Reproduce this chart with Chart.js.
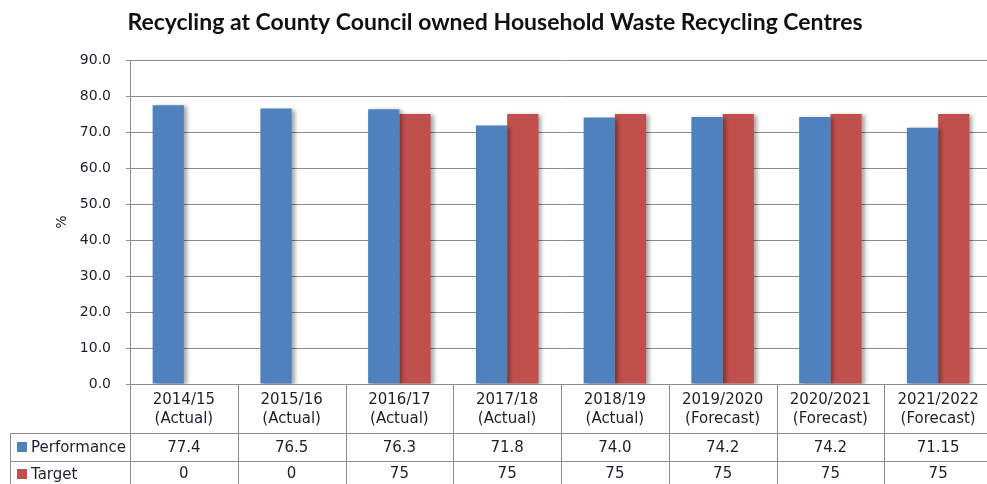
<!DOCTYPE html>
<html>
<head>
<meta charset="utf-8">
<script src="https://cdn.jsdelivr.net/npm/chart.js@4/dist/chart.umd.min.js"></script>
<style>
  html, body { margin: 0; padding: 0; background: #fff; overflow: hidden; }
  #wrap { width: 992px; height: 484px; }
</style>
</head>
<body>
<div id="wrap"><canvas id="recycling" width="992" height="484"></canvas></div>
<script>
// data
const years = ['2014/15', '2015/16', '2016/17', '2017/18', '2018/19', '2019/2020', '2020/2021', '2021/2022'];
const stages = ['(Actual)', '(Actual)', '(Actual)', '(Actual)', '(Actual)', '(Forecast)', '(Forecast)', '(Forecast)'];
const performance = [77.4, 76.5, 76.3, 71.8, 74.0, 74.2, 74.2, 71.15];
const performanceText = ['77.4', '76.5', '76.3', '71.8', '74.0', '74.2', '74.2', '71.15'];
const target = [0, 0, 75, 75, 75, 75, 75, 75];
const yTicks = [0, 10, 20, 30, 40, 50, 60, 70, 80, 90];

const BLUE = '#4F81BD';
const RED = '#C0504D';
const LINE = '#8c8c8c';
const TEXT = '#1e1e2e';
const FONT = '"DejaVu Sans", Verdana, sans-serif';

// bar shadow like the excel one
const shadowPlugin = {
  id: 'barShadow',
  beforeDatasetsDraw(chart) {
    const ctx = chart.ctx;
    ctx.save();
    ctx.shadowColor = 'rgba(0,0,0,0.35)';
    ctx.shadowBlur = 4;
    ctx.shadowOffsetX = 3;
    ctx.shadowOffsetY = 1;
  },
  afterDatasetsDraw(chart) {
    chart.ctx.restore();
  }
};

// title, % label and the data table under the plot
const tablePlugin = {
  id: 'dataTable',
  afterDraw(chart) {
    const ctx = chart.ctx;
    const x = chart.scales.x;
    const area = chart.chartArea;
    const colW = (area.right - area.left) / years.length;
    const row1 = 433, row2 = 461, bottom = 484;
    const tableLeft = 10;

    ctx.save();
    // title
    ctx.fillStyle = '#111';
    ctx.font = 'bold 23px Lato, sans-serif';
    ctx.textAlign = 'center';
    ctx.textBaseline = 'middle';
    ctx.fillText('Recycling at County Council owned Household Waste Recycling Centres', 495, 23);

    // y title
    ctx.save();
    ctx.translate(62, 222);
    ctx.rotate(-Math.PI / 2);
    ctx.font = '14px ' + FONT;
    ctx.fillStyle = TEXT;
    ctx.fillText('%', 0, 0);
    ctx.restore();

    // table lines
    ctx.strokeStyle = LINE;
    ctx.lineWidth = 1;
    ctx.beginPath();
    for (let i = 0; i <= years.length; i++) {
      const lx = Math.round(area.left + i * colW) + 0.5;
      ctx.moveTo(lx, area.bottom);
      ctx.lineTo(lx, bottom);
    }
    ctx.moveTo(tableLeft + 0.5, row1);
    ctx.lineTo(tableLeft + 0.5, bottom);
    ctx.moveTo(tableLeft, row1 + 0.5);
    ctx.lineTo(area.right, row1 + 0.5);
    ctx.moveTo(tableLeft, row2 + 0.5);
    ctx.lineTo(area.right, row2 + 0.5);
    ctx.stroke();

    // cell text
    ctx.fillStyle = TEXT;
    ctx.font = '15px ' + FONT;
    ctx.textAlign = 'center';
    years.forEach((y, i) => {
      const cx = x.getPixelForValue(i);
      ctx.fillText(y, cx, 400);
      ctx.fillText(stages[i], cx, 419);
      ctx.fillText(performanceText[i], cx, 448);
      ctx.fillText(String(target[i]), cx, 474);
    });

    // legend keys in the row headers
    ctx.textAlign = 'left';
    ctx.fillStyle = BLUE;
    ctx.fillRect(17, 442, 10, 10);
    ctx.fillStyle = RED;
    ctx.fillRect(17, 469, 10, 10);
    ctx.fillStyle = TEXT;
    ctx.fillText('Performance', 31, 448);
    ctx.fillText('Target', 31, 475);
    ctx.restore();
  }
};

const config = {
  type: 'bar',
  data: {
    labels: years,
    datasets: [
      { label: 'Performance', data: performance, backgroundColor: BLUE, borderWidth: 0 },
      { label: 'Target', data: target, backgroundColor: RED, borderWidth: 0 }
    ]
  },
  options: {
    responsive: false,
    animation: false,
    devicePixelRatio: 1,
    layout: { padding: { top: 60, left: 0, right: 0, bottom: 0 } },
    datasets: { bar: { categoryPercentage: 0.58, barPercentage: 1 } },
    plugins: {
      legend: { display: false },
      tooltip: { enabled: false }
    },
    scales: {
      x: {
        ticks: { display: false },
        grid: { display: false },
        border: { display: false },
        afterFit(scale) { scale.height = 100; }
      },
      y: {
        min: 0,
        max: 90,
        afterBuildTicks(scale) { scale.ticks = yTicks.map(v => ({ value: v })); },
        afterFit(scale) { scale.width = 130; },
        ticks: {
          padding: 15,
          color: TEXT,
          font: { family: FONT, size: 14 },
          callback: v => v.toFixed(1)
        },
        grid: { color: LINE, tickLength: 4, lineWidth: 1 },
        border: { color: LINE }
      }
    }
  },
  plugins: [shadowPlugin, tablePlugin]
};

const recyclingChart = new Chart(document.getElementById('recycling'), config);
</script>
</body>
</html>
